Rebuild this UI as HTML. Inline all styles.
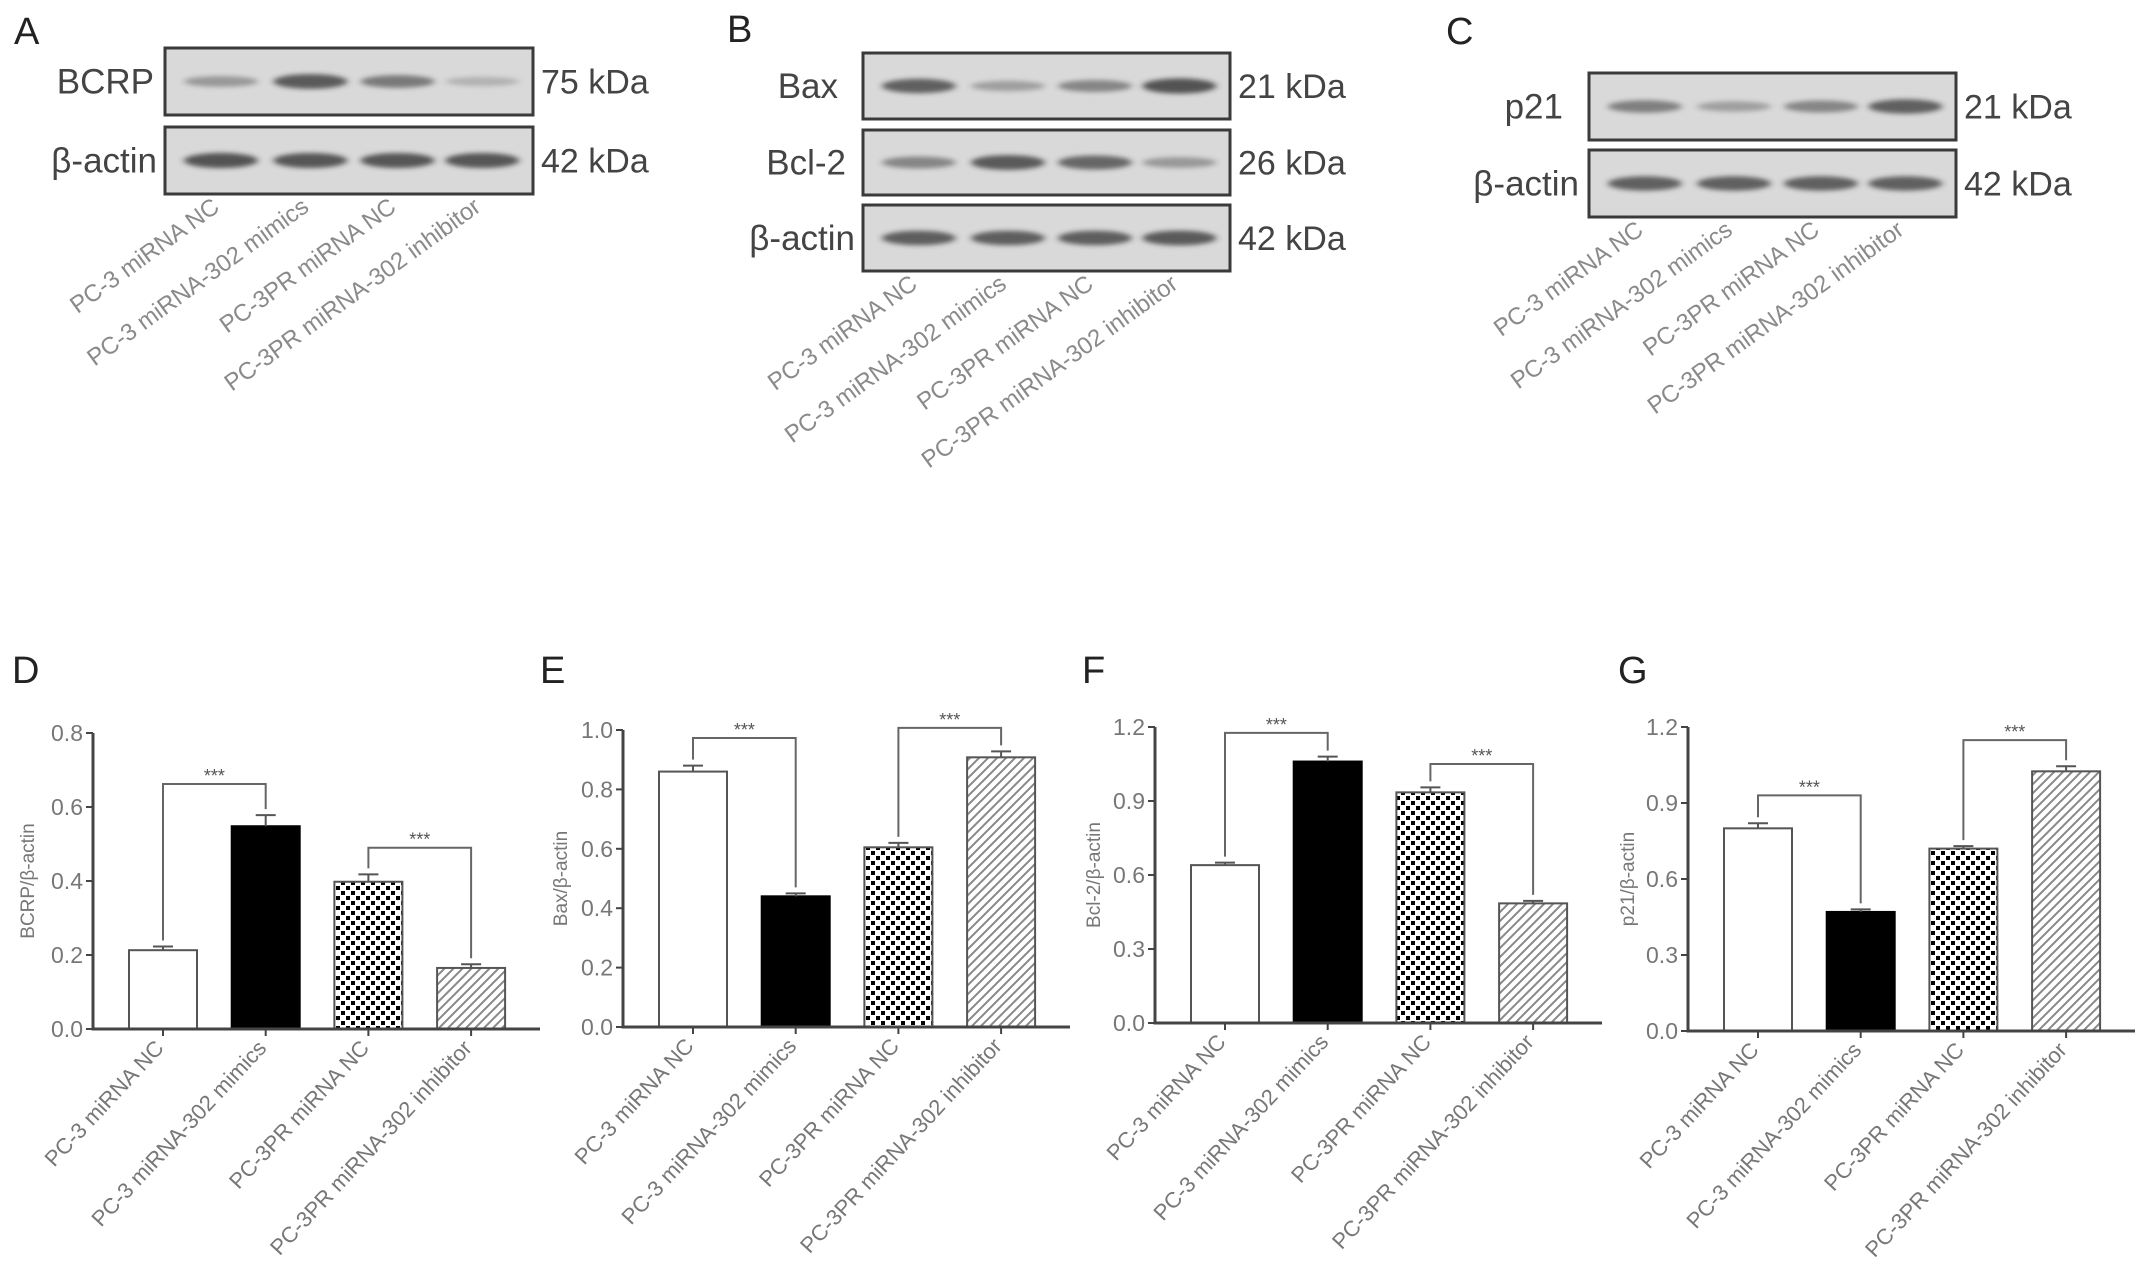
<!DOCTYPE html>
<html><head><meta charset="utf-8"><style>
html,body{margin:0;padding:0;background:#fff}
svg{display:block}
text{font-family:"Liberation Sans",sans-serif}
</style></head><body>
<svg id="fig" width="2150" height="1273" viewBox="0 0 2150 1273" xmlns="http://www.w3.org/2000/svg">
<defs>
<filter id="blur" x="-30%" y="-100%" width="160%" height="300%"><feGaussianBlur stdDeviation="3.5 2.5"/></filter>
<pattern id="checker" width="10" height="10" patternUnits="userSpaceOnUse">
<rect width="10" height="10" fill="#fff"/><rect x="1" y="1" width="4" height="4" fill="#000"/><rect x="6" y="6" width="4" height="4" fill="#000"/>
</pattern>
<pattern id="hatch" width="9" height="9" patternUnits="userSpaceOnUse">
<rect width="9" height="9" fill="#fff"/><path d="M-2,11 L11,-2 M-2,2 L2,-2 M7,11 L11,7" stroke="#888" stroke-width="2"/>
</pattern>
</defs>
<g id="blots"></g>
<g id="charts"></g>
</svg>
<script>
// ---- chart data ----
const categories = ["PC-3 miRNA NC","PC-3 miRNA-302 mimics","PC-3PR miRNA NC","PC-3PR miRNA-302 inhibitor"];
const bcrpValues = [0.213, 0.548, 0.398, 0.165];
const bcrpErrors = [0.010, 0.030, 0.020, 0.010];
const bcrpTicks = ["0.0","0.2","0.4","0.6","0.8"];
const bcrpBrackets = [[0,1,0.662],[2,3,0.49]];
const baxValues = [0.86, 0.44, 0.605, 0.908];
const baxErrors = [0.02, 0.01, 0.015, 0.02];
const baxTicks = ["0.0","0.2","0.4","0.6","0.8","1.0"];
const baxBrackets = [[0,1,0.973],[2,3,1.007]];
const bcl2Values = [0.64, 1.06, 0.935, 0.485];
const bcl2Errors = [0.01, 0.02, 0.02, 0.01];
const bcl2Ticks = ["0.0","0.3","0.6","0.9","1.2"];
const bcl2Brackets = [[0,1,1.176],[2,3,1.05]];
const p21Values = [0.80, 0.47, 0.72, 1.025];
const p21Errors = [0.02, 0.01, 0.01, 0.02];
const p21Ticks = ["0.0","0.3","0.6","0.9","1.2"];
const p21Brackets = [[0,1,0.93],[2,3,1.148]];
// blot band intensities (0..1)
const bcrpBands = [0.35, 0.85, 0.6, 0.15];
const actinBandsA = [0.9, 0.88, 0.88, 0.88];
const baxBands = [0.8, 0.3, 0.5, 0.9];
const bcl2Bands = [0.5, 0.85, 0.75, 0.35];
const actinBandsB = [0.82, 0.82, 0.82, 0.85];
const p21Bands = [0.55, 0.3, 0.5, 0.8];
const actinBandsC = [0.8, 0.8, 0.8, 0.8];

const NS="http://www.w3.org/2000/svg";
function mk(tag, attrs, parent){const e=document.createElementNS(NS,tag);for(const k in attrs)e.setAttribute(k,attrs[k]);parent.appendChild(e);return e;}
const blots=document.getElementById('blots');
const charts=document.getElementById('charts');
const fills=["#fff","#000","url(#checker)","url(#hatch)"];

function panelLetter(ch,x,y,parent){
  const t=mk('text',{x:x,y:y,'font-size':38,fill:'#222'},parent);
  t.textContent=ch;
  
  
}

function blot(g, x, y, w, h, bands, label, kda, labelX){
  const grp=mk('g',{},g);
  
  
  mk('rect',{x:x,y:y,width:w,height:h,fill:'#d9d9d9',stroke:'#3a3a3a','stroke-width':3},grp);
  const fr=[0.152,0.395,0.632,0.862];
  bands.forEach((v,i)=>{
    const b=mk('ellipse',{cx:x+fr[i]*w,cy:y+h*0.5,rx:37,ry:4+4*v,fill:'#333',opacity:0.12+0.75*v,filter:'url(#blur)'},grp);
    
    
  });
  const t=mk('text',{x:labelX,y:y+h/2+12,'font-size':35,fill:'#444','text-anchor':'end'},grp);
  t.textContent=label;
  
  
  const k=mk('text',{x:x+w+8,y:y+h/2+12,'font-size':34,fill:'#444'},grp);
  k.textContent=kda;
  
  
}
function laneLabels(g,x,w,yb){
  const fr=[0.152,0.395,0.632,0.862];
  categories.forEach((c,i)=>{
    const lx=x+fr[i]*w, ly=yb+14;
    const t=mk('text',{x:lx,y:ly,'font-size':24,fill:'#8a8a8a','text-anchor':'end',transform:`rotate(-36 ${lx} ${ly})`},g);
    t.textContent=c;
    
    
  });
}
// Panel A
panelLetter('A',14,44,blots);
blot(blots,165,48,368,67,bcrpBands,'BCRP','75 kDa',154);
blot(blots,165,127,368,67,actinBandsA,'β-actin','42 kDa',157);
laneLabels(blots,165,368,196);
// Panel B
panelLetter('B',727,42,blots);
blot(blots,863,53,367,66,baxBands,'Bax','21 kDa',838);
blot(blots,863,130,367,65,bcl2Bands,'Bcl-2','26 kDa',846);
blot(blots,863,205,367,66,actinBandsB,'β-actin','42 kDa',855);
laneLabels(blots,863,367,273);
// Panel C
panelLetter('C',1446,44,blots);
blot(blots,1589,73,367,67,p21Bands,'p21','21 kDa',1563);
blot(blots,1589,150,367,67,actinBandsC,'β-actin','42 kDa',1579);
laneLabels(blots,1589,367,219);

function barChart(opt, values, errors, ticks, brackets){
  const g=mk('g',{},charts);
  
  
  const ax=opt.ax, y0=opt.y0, yT=opt.yTop, vmax=parseFloat(ticks[ticks.length-1]);
  const Y=v=>y0-(v/vmax)*(y0-yT);
  const X=i=>ax+70+i*102.7;
  panelLetter(opt.letter,opt.letterX,683,g);
  values.forEach((v,i)=>{
    const r=mk('rect',{x:X(i)-34,y:Y(v),width:68,height:y0-Y(v),fill:fills[i],stroke:i==1?'#000':'#555','stroke-width':2},g);
    
    
    const et=Y(v+errors[i]);
    const e=mk('path',{d:`M${X(i)},${Y(v)} V${et} M${X(i)-10},${et} H${X(i)+10}`,stroke:'#555','stroke-width':2,fill:'none'},g);
    
    
  });
  const a=mk('path',{d:`M${ax},${yT} V${y0} H${ax+447}`,stroke:'#444','stroke-width':3,fill:'none'},g);
  
  
  ticks.forEach(tk=>{
    const v=parseFloat(tk), ty=Y(v);
    mk('line',{x1:ax-7,x2:ax,y1:ty,y2:ty,stroke:'#444','stroke-width':2},g);
    const t=mk('text',{x:ax-10,y:ty+8,'font-size':23,fill:'#777','text-anchor':'end'},g);
    t.textContent=tk;
    
    
  });
  categories.forEach((c,i)=>{
    mk('line',{x1:X(i),x2:X(i),y1:y0,y2:y0+7,stroke:'#444','stroke-width':2},g);
    const lx=X(i)+2, ly=y0+20;
    const t=mk('text',{x:lx,y:ly,'font-size':22,fill:'#777','text-anchor':'end',transform:`rotate(-47 ${lx} ${ly})`},g);
    t.textContent=c;
    
    
  });
  const ty=(y0+yT)/2, tx=opt.titleX;
  const tt=mk('text',{x:tx,y:ty,'font-size':19,fill:'#777','text-anchor':'middle',transform:`rotate(-90 ${tx} ${ty})`},g);
  tt.textContent=opt.title;
  
  
  brackets.forEach(b=>{
    const [i,j,v]=b, by=Y(v);
    const l1=Y(values[i]+errors[i])-6, l2=Y(values[j]+errors[j])-6;
    const p=mk('path',{d:`M${X(i)},${l1} V${by} H${X(j)} V${l2}`,stroke:'#666','stroke-width':2,fill:'none'},g);
    
    
    const s=mk('text',{x:(X(i)+X(j))/2,y:by-2,'font-size':18,fill:'#555','text-anchor':'middle'},g);
    s.textContent='***';
    
    
  });
}
barChart({name:'chart-d-bcrp',letter:'D',letterX:12,ax:93,y0:1029,yTop:733,titleX:34,title:'BCRP/β-actin'},bcrpValues,bcrpErrors,bcrpTicks,bcrpBrackets);
barChart({name:'chart-e-bax',letter:'E',letterX:540,ax:623,y0:1027,yTop:730,titleX:567,title:'Bax/β-actin'},baxValues,baxErrors,baxTicks,baxBrackets);
barChart({name:'chart-f-bcl2',letter:'F',letterX:1082,ax:1155,y0:1023,yTop:727,titleX:1100,title:'Bcl-2/β-actin'},bcl2Values,bcl2Errors,bcl2Ticks,bcl2Brackets);
barChart({name:'chart-g-p21',letter:'G',letterX:1618,ax:1688,y0:1031,yTop:727,titleX:1634,title:'p21/β-actin'},p21Values,p21Errors,p21Ticks,p21Brackets);
</script>
</body></html>
